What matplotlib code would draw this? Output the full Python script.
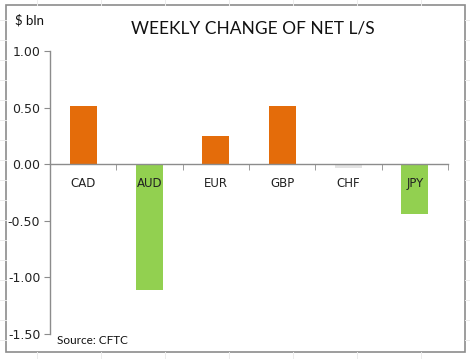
import matplotlib
matplotlib.use("Agg")
import matplotlib.pyplot as plt
from matplotlib.lines import Line2D
from matplotlib.patches import Rectangle

categories = ["CAD", "AUD", "EUR", "GBP", "CHF", "JPY"]
values = [0.51, -1.115, 0.25, 0.51, -0.03, -0.44]
colors = ["#E46C0A", "#92D050", "#E46C0A", "#E46C0A", "#E3E3E3", "#92D050"]
yticks = [1.0, 0.5, 0.0, -0.5, -1.0, -1.5]
ytick_labels = ["1.00", "0.50", "0.00", "-0.50", "-1.00", "-1.50"]

W, H = 470, 359
fig = plt.figure(figsize=(W / 100, H / 100), dpi=100)
fig.patch.set_facecolor("white")

# faint spreadsheet grid outside the chart
for x in [37, 101, 165, 229, 293, 357, 421]:
    fig.add_artist(Line2D([x / W, x / W], [1 - 5 / H, 1], color="#ececec", lw=0.7))
    fig.add_artist(Line2D([x / W, x / W], [0, 1 - 352 / H], color="#ececec", lw=0.7))
for y in range(20, 359, 20):
    fig.add_artist(Line2D([0, 6 / W], [1 - y / H, 1 - y / H], color="#ececec", lw=0.7))
    fig.add_artist(Line2D([465 / W, 1], [1 - y / H, 1 - y / H], color="#ececec", lw=0.7))

# chart frame
fig.add_artist(Rectangle((6 / W, 1 - 352 / H), (465 - 6) / W, (352 - 5) / H,
                         transform=fig.transFigure, facecolor="white",
                         edgecolor="#8c8c8c", lw=1.2, zorder=0))

ax = fig.add_axes([50 / W, 1 - 334 / H, (448 - 50) / W, (334 - 51) / H])
ax.set_facecolor("none")
x = list(range(len(categories)))
ax.bar(x, values, width=0.41, color=colors, zorder=1)

ax.set_xlim(-0.5, len(categories) - 0.5)
ax.set_ylim(-1.5, 1.0)
ax.set_yticks(yticks)
ax.set_yticklabels(ytick_labels, fontsize=9, family="DejaVu Sans", color="#222222")
ax.tick_params(axis="y", length=4, color="#8c8c8c", pad=3)

ax.spines["top"].set_visible(False)
ax.spines["right"].set_visible(False)
ax.spines["left"].set_color("#8c8c8c")
ax.spines["bottom"].set_color("#8c8c8c")
ax.spines["bottom"].set_position(("data", 0))
ax.spines["left"].set_linewidth(1.0)
ax.spines["bottom"].set_linewidth(1.0)

ax.set_xticks(x)
ax.set_xticklabels(categories, fontsize=8.5, family="DejaVu Sans", color="#222222")
ax.tick_params(axis="x", length=0, pad=9)
ax.set_xticks([i - 0.5 for i in range(len(categories) + 1)], minor=True)
ax.tick_params(axis="x", which="minor", length=4, color="#8c8c8c", direction="out")

fig.text(253 / W, 1 - 28 / H, "WEEKLY CHANGE OF NET L/S", ha="center", va="center",
         fontsize=12.5, family="Lato", color="#111111")
fig.text(15 / W, 1 - 20 / H, "$ bln", ha="left", va="center",
         fontsize=9.5, family="Lato", color="#111111")
fig.text(57 / W, 1 - 341 / H, "Source: CFTC", ha="left", va="center",
         fontsize=8.5, family="Lato", color="#111111")

fig.savefig("out.png", dpi=100)
